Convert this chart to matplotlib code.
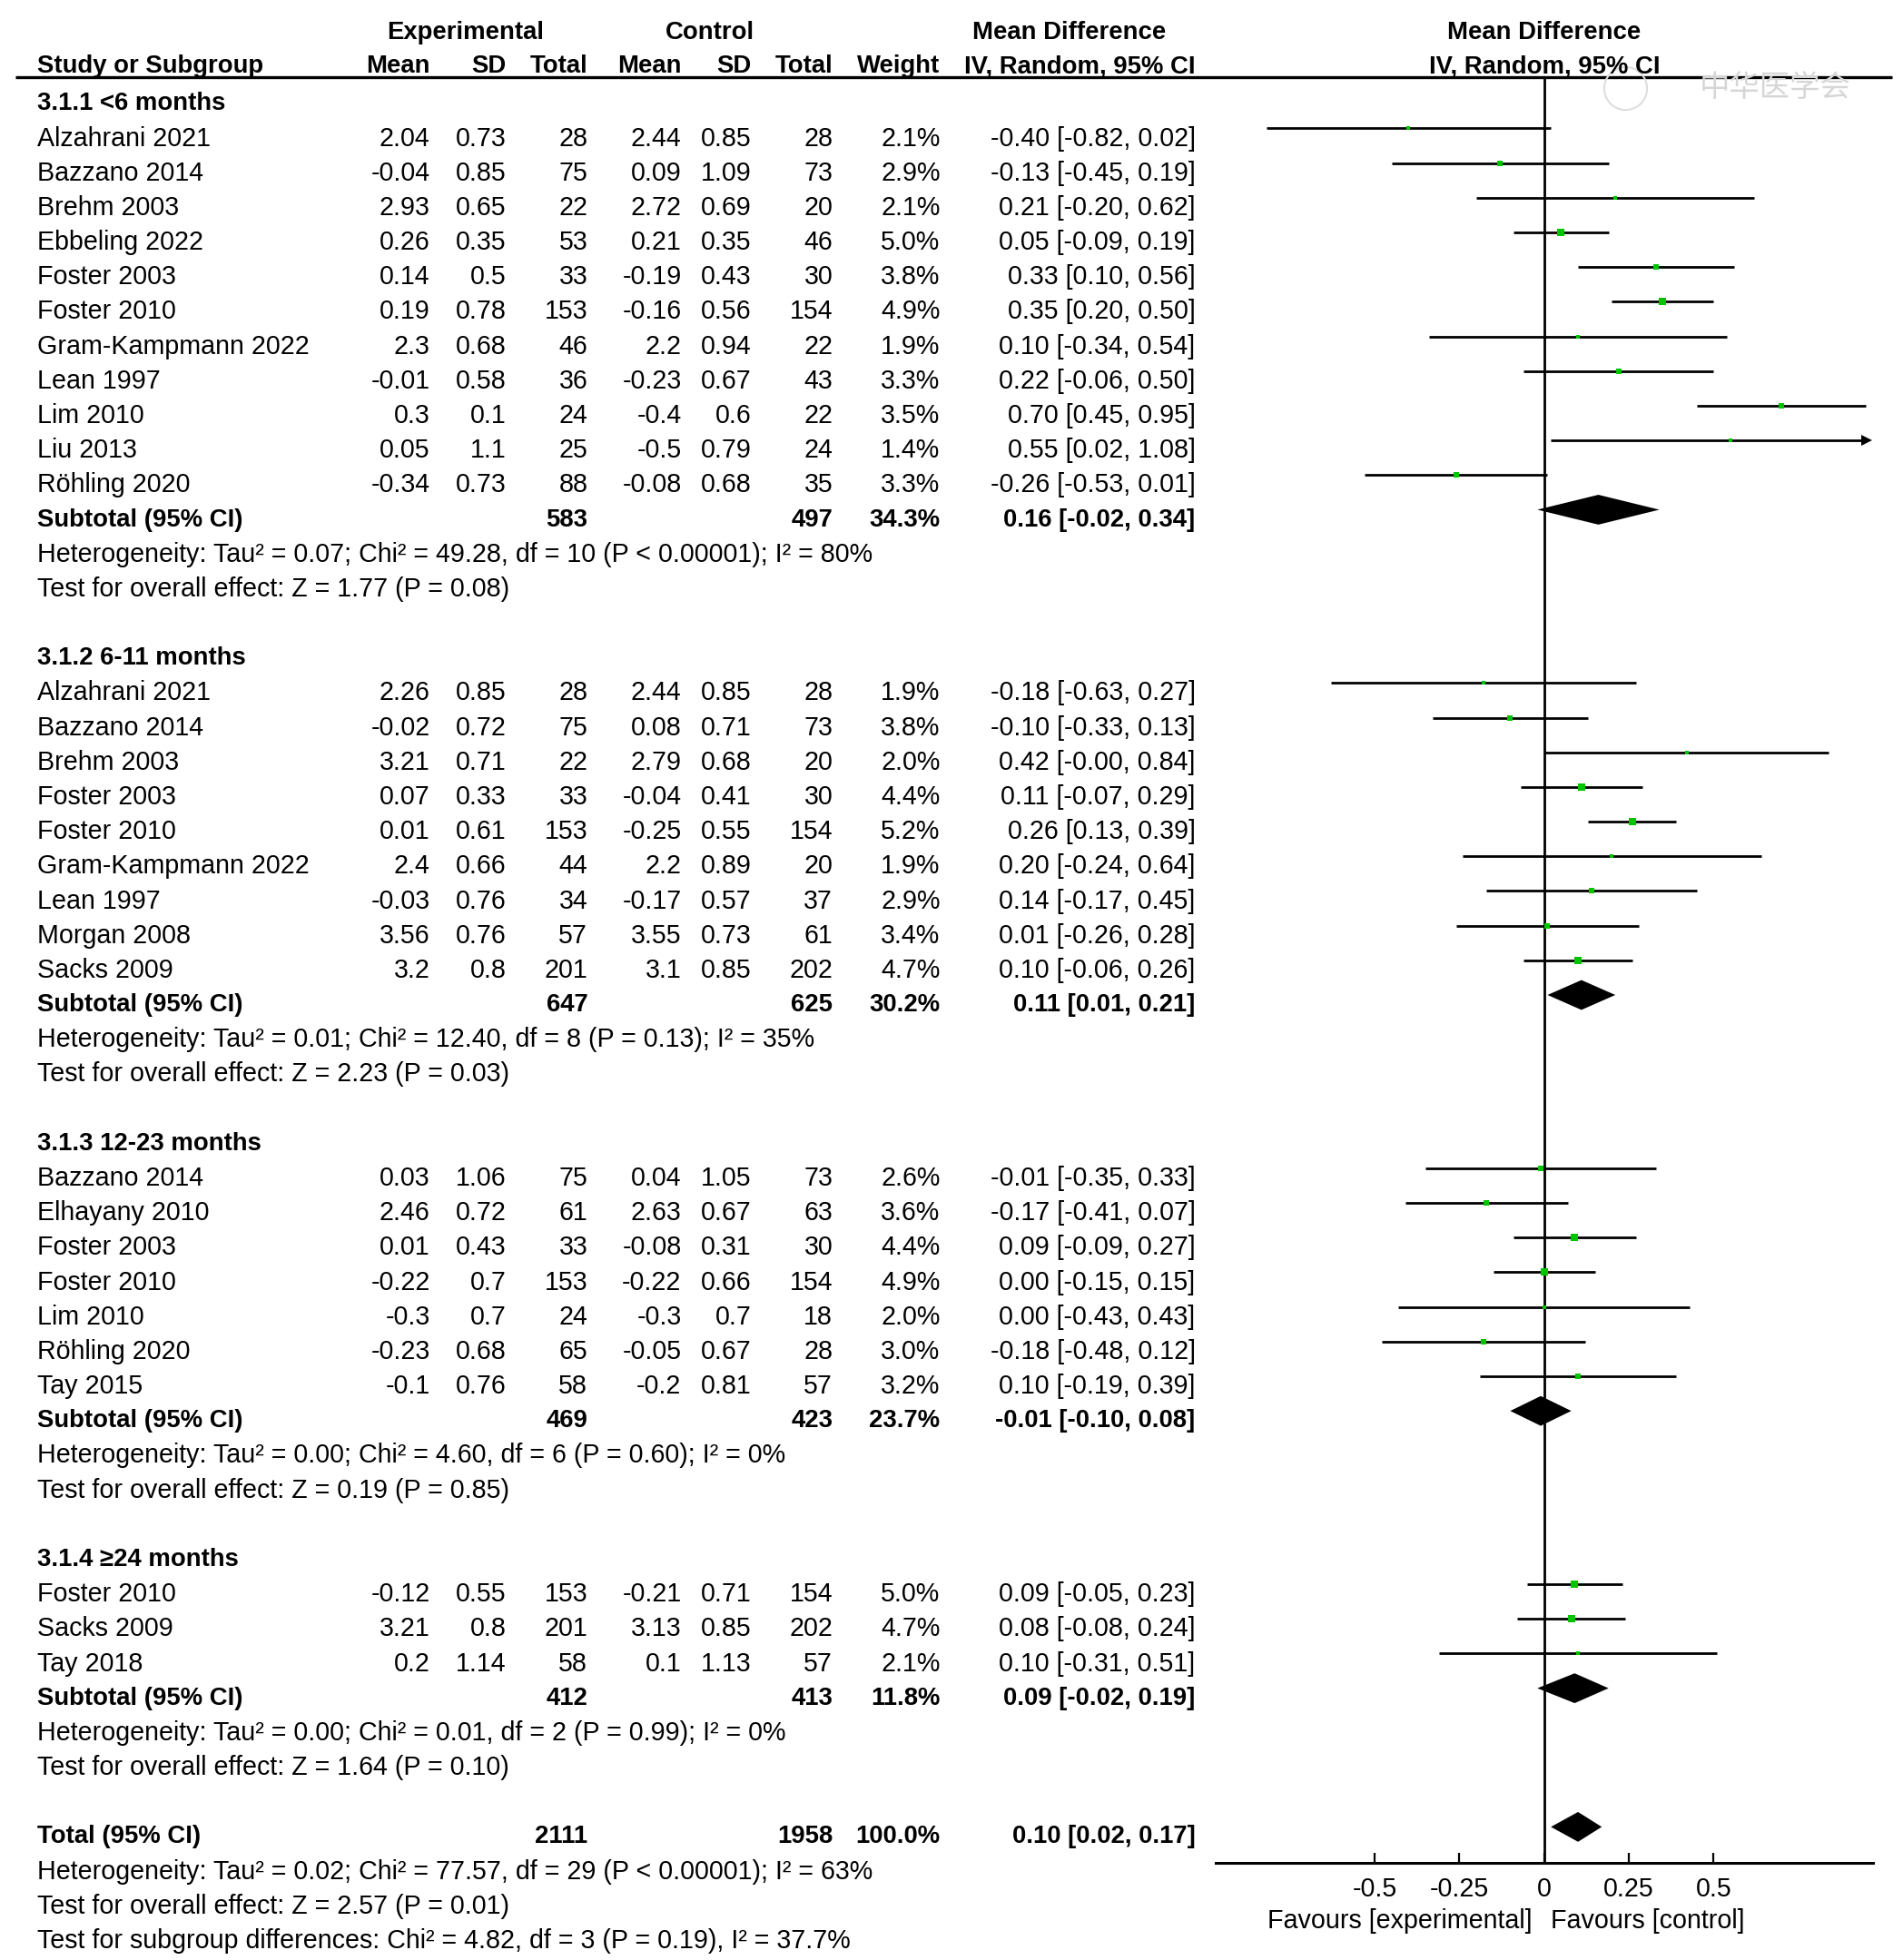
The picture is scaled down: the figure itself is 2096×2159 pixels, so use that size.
import numpy as np
import matplotlib
matplotlib.use('Agg')
import matplotlib.pyplot as plt

plt.rcParams['font.family'] = ['Liberation Sans', 'DejaVu Sans']

# ---- data ----
group_titles = ['3.1.1 <6 months', '3.1.2 6-11 months', '3.1.3 12-23 months', '3.1.4 ≥24 months']

names1 = ['Alzahrani 2021', 'Bazzano 2014', 'Brehm 2003', 'Ebbeling 2022', 'Foster 2003', 'Foster 2010',
          'Gram-Kampmann 2022', 'Lean 1997', 'Lim 2010', 'Liu 2013', 'Röhling 2020']
exp_mean1 = [2.04, -0.04, 2.93, 0.26, 0.14, 0.19, 2.3, -0.01, 0.3, 0.05, -0.34]
exp_sd1 = [0.73, 0.85, 0.65, 0.35, 0.5, 0.78, 0.68, 0.58, 0.1, 1.1, 0.73]
exp_n1 = [28, 75, 22, 53, 33, 153, 46, 36, 24, 25, 88]
ctl_mean1 = [2.44, 0.09, 2.72, 0.21, -0.19, -0.16, 2.2, -0.23, -0.4, -0.5, -0.08]
ctl_sd1 = [0.85, 1.09, 0.69, 0.35, 0.43, 0.56, 0.94, 0.67, 0.6, 0.79, 0.68]
ctl_n1 = [28, 73, 20, 46, 30, 154, 22, 43, 22, 24, 35]
weight1 = [2.1, 2.9, 2.1, 5.0, 3.8, 4.9, 1.9, 3.3, 3.5, 1.4, 3.3]
md1 = [-0.40, -0.13, 0.21, 0.05, 0.33, 0.35, 0.10, 0.22, 0.70, 0.55, -0.26]
lo1 = [-0.82, -0.45, -0.20, -0.09, 0.10, 0.20, -0.34, -0.06, 0.45, 0.02, -0.53]
hi1 = [0.02, 0.19, 0.62, 0.19, 0.56, 0.50, 0.54, 0.50, 0.95, 1.08, 0.01]

names2 = ['Alzahrani 2021', 'Bazzano 2014', 'Brehm 2003', 'Foster 2003', 'Foster 2010',
          'Gram-Kampmann 2022', 'Lean 1997', 'Morgan 2008', 'Sacks 2009']
exp_mean2 = [2.26, -0.02, 3.21, 0.07, 0.01, 2.4, -0.03, 3.56, 3.2]
exp_sd2 = [0.85, 0.72, 0.71, 0.33, 0.61, 0.66, 0.76, 0.76, 0.8]
exp_n2 = [28, 75, 22, 33, 153, 44, 34, 57, 201]
ctl_mean2 = [2.44, 0.08, 2.79, -0.04, -0.25, 2.2, -0.17, 3.55, 3.1]
ctl_sd2 = [0.85, 0.71, 0.68, 0.41, 0.55, 0.89, 0.57, 0.73, 0.85]
ctl_n2 = [28, 73, 20, 30, 154, 20, 37, 61, 202]
weight2 = [1.9, 3.8, 2.0, 4.4, 5.2, 1.9, 2.9, 3.4, 4.7]
md2 = [-0.18, -0.10, 0.42, 0.11, 0.26, 0.20, 0.14, 0.01, 0.10]
lo2 = [-0.63, -0.33, -0.0, -0.07, 0.13, -0.24, -0.17, -0.26, -0.06]
hi2 = [0.27, 0.13, 0.84, 0.29, 0.39, 0.64, 0.45, 0.28, 0.26]

names3 = ['Bazzano 2014', 'Elhayany 2010', 'Foster 2003', 'Foster 2010', 'Lim 2010', 'Röhling 2020', 'Tay 2015']
exp_mean3 = [0.03, 2.46, 0.01, -0.22, -0.3, -0.23, -0.1]
exp_sd3 = [1.06, 0.72, 0.43, 0.7, 0.7, 0.68, 0.76]
exp_n3 = [75, 61, 33, 153, 24, 65, 58]
ctl_mean3 = [0.04, 2.63, -0.08, -0.22, -0.3, -0.05, -0.2]
ctl_sd3 = [1.05, 0.67, 0.31, 0.66, 0.7, 0.67, 0.81]
ctl_n3 = [73, 63, 30, 154, 18, 28, 57]
weight3 = [2.6, 3.6, 4.4, 4.9, 2.0, 3.0, 3.2]
md3 = [-0.01, -0.17, 0.09, 0.00, 0.00, -0.18, 0.10]
lo3 = [-0.35, -0.41, -0.09, -0.15, -0.43, -0.48, -0.19]
hi3 = [0.33, 0.07, 0.27, 0.15, 0.43, 0.12, 0.39]

names4 = ['Foster 2010', 'Sacks 2009', 'Tay 2018']
exp_mean4 = [-0.12, 3.21, 0.2]
exp_sd4 = [0.55, 0.8, 1.14]
exp_n4 = [153, 201, 58]
ctl_mean4 = [-0.21, 3.13, 0.1]
ctl_sd4 = [0.71, 0.85, 1.13]
ctl_n4 = [154, 202, 57]
weight4 = [5.0, 4.7, 2.1]
md4 = [0.09, 0.08, 0.10]
lo4 = [-0.05, -0.08, -0.31]
hi4 = [0.23, 0.24, 0.51]

sub_exp_n = [583, 647, 469, 412]
sub_ctl_n = [497, 625, 423, 413]
sub_weight = [34.3, 30.2, 23.7, 11.8]
sub_md = [0.16, 0.11, -0.01, 0.09]
sub_lo = [-0.02, 0.01, -0.10, -0.02]
sub_hi = [0.34, 0.21, 0.08, 0.19]
sub_het = ['Heterogeneity: Tau² = 0.07; Chi² = 49.28, df = 10 (P < 0.00001); I² = 80%',
           'Heterogeneity: Tau² = 0.01; Chi² = 12.40, df = 8 (P = 0.13); I² = 35%',
           'Heterogeneity: Tau² = 0.00; Chi² = 4.60, df = 6 (P = 0.60); I² = 0%',
           'Heterogeneity: Tau² = 0.00; Chi² = 0.01, df = 2 (P = 0.99); I² = 0%']
sub_z = ['Test for overall effect: Z = 1.77 (P = 0.08)',
         'Test for overall effect: Z = 2.23 (P = 0.03)',
         'Test for overall effect: Z = 0.19 (P = 0.85)',
         'Test for overall effect: Z = 1.64 (P = 0.10)']

total_exp_n = 2111
total_ctl_n = 1958
total_md, total_lo, total_hi = 0.10, 0.02, 0.17
total_lines = ['Heterogeneity: Tau² = 0.02; Chi² = 77.57, df = 29 (P < 0.00001); I² = 63%',
               'Test for overall effect: Z = 2.57 (P = 0.01)',
               'Test for subgroup differences: Chi² = 4.82, df = 3 (P = 0.19), I² = 37.7%']

xticks = [-0.5, -0.25, 0, 0.25, 0.5]
xticklabels = ['-0.5', '-0.25', '0', '0.25', '0.5']

studies = [
    (names1, exp_mean1, exp_sd1, exp_n1, ctl_mean1, ctl_sd1, ctl_n1, weight1, md1, lo1, hi1),
    (names2, exp_mean2, exp_sd2, exp_n2, ctl_mean2, ctl_sd2, ctl_n2, weight2, md2, lo2, hi2),
    (names3, exp_mean3, exp_sd3, exp_n3, ctl_mean3, ctl_sd3, ctl_n3, weight3, md3, lo3, hi3),
    (names4, exp_mean4, exp_sd4, exp_n4, ctl_mean4, ctl_sd4, ctl_n4, weight4, md4, lo4, hi4),
]

# ---- layout ----
FS = 20.6      # regular text
FSB = 19.8     # bold text
W, H = 1522, 1568          # layout units (reference pixels, shrunk)
ROW0, ROWH = 75, 27.73     # y of first row marks, row pitch
TOFF = 0.29                # text sits a little lower than the marks
r_top = -ROW0 / ROWH
r_bot = (H - ROW0) / ROWH
XCLIP = 0.965
DH = 0.43                  # half height of diamonds

fig = plt.figure(figsize=(20.96, 21.59), dpi=100)
tab = fig.add_axes([0, 0, 1, 1])
tab.set_xlim(0, W)
tab.set_ylim(r_bot, r_top)
tab.axis('off')

ax = fig.add_axes([964 / W, 0, 542 / W, 1])
ax.set_xlim(-1, 1)
ax.set_ylim(r_bot, r_top)
ax.patch.set_visible(False)

col_x = [344, 405, 470, 545, 601, 666, 752, 956]
NAME_X = 30


def ci_text(m, l, h):
    return f"{m:.2f} [{l:.2f}, {h:.2f}]"


def put(x, r, s, ha='right', bold=False):
    tab.text(x, r + TOFF, s, ha=ha, va='center', fontsize=FSB if bold else FS,
             fontweight='bold' if bold else 'normal')


# headers
put(372, -2.06, 'Experimental', ha='center', bold=True)
put(568, -2.06, 'Control', ha='center', bold=True)
put(855, -2.06, 'Mean Difference', ha='center', bold=True)
put(NAME_X, -1.08, 'Study or Subgroup', ha='left', bold=True)
for x, s in zip(col_x, ['Mean', 'SD', 'Total', 'Mean', 'SD', 'Total', 'Weight', 'IV, Random, 95% CI']):
    put(x, -1.08, s, bold=True)
ax.text(0, -2.06 + TOFF, 'Mean Difference', ha='center', va='center', fontsize=FSB, fontweight='bold')
ax.text(0, -1.08 + TOFF, 'IV, Random, 95% CI', ha='center', va='center', fontsize=FSB, fontweight='bold')
line_r = (62 - ROW0) / ROWH
tab.plot([12, 1513], [line_r, line_r], color='black', lw=2.4, solid_capstyle='butt')

# watermark
tab.plot([1300], [line_r + 0.3], marker='o', ms=34, mfc='none', mec='#dedede', mew=1.5)
tab.text(1420, line_r + 0.3, '中华医学会', ha='center', va='center', fontsize=24, color='#d6d6d6',
         family=['Noto Sans CJK SC', 'DejaVu Sans'], style='italic')

r = 0
for g, st in enumerate(studies):
    names, em, esd, en, cm, csd, cn, w, md, lo, hi = st
    put(NAME_X, r, group_titles[g], ha='left', bold=True)
    for i in range(len(names)):
        rr = r + 1 + i
        put(NAME_X, rr, names[i], ha='left')
        vals = [f"{em[i]:g}", f"{esd[i]:g}", str(en[i]), f"{cm[i]:g}", f"{csd[i]:g}", str(cn[i]),
                f"{w[i]:.1f}%", ci_text(md[i], lo[i], hi[i])]
        for x, s in zip(col_x, vals):
            put(x, rr, s)
        # CI line and point
        if hi[i] > XCLIP:
            ax.plot([lo[i], XCLIP - 0.02], [rr, rr], color='black', lw=2, solid_capstyle='butt', zorder=2)
            ax.plot([XCLIP - 0.012], [rr], marker='>', ms=9, color='black', mew=0, zorder=2)
        else:
            ax.plot([lo[i], hi[i]], [rr, rr], color='black', lw=2, solid_capstyle='butt', zorder=2)
        ax.plot([md[i]], [rr], marker='s', ms=2 + 0.7 * w[i], color='#00c400', mew=0, zorder=3)
    rs = r + len(names) + 1
    put(NAME_X, rs, 'Subtotal (95% CI)', ha='left', bold=True)
    put(col_x[2], rs, str(sub_exp_n[g]), bold=True)
    put(col_x[5], rs, str(sub_ctl_n[g]), bold=True)
    put(col_x[6], rs, f"{sub_weight[g]:.1f}%", bold=True)
    put(col_x[7], rs, ci_text(sub_md[g], sub_lo[g], sub_hi[g]), bold=True)
    ax.fill([sub_lo[g], sub_md[g], sub_hi[g], sub_md[g]], [rs, rs - DH, rs, rs + DH],
            color='black', lw=0, zorder=3)
    put(NAME_X, rs + 1, sub_het[g], ha='left')
    put(NAME_X, rs + 2, sub_z[g], ha='left')
    r = rs + 4

# overall
put(NAME_X, r, 'Total (95% CI)', ha='left', bold=True)
put(col_x[2], r, str(total_exp_n), bold=True)
put(col_x[5], r, str(total_ctl_n), bold=True)
put(col_x[6], r, f"{sum(sub_weight):.1f}%", bold=True)
put(col_x[7], r, ci_text(total_md, total_lo, total_hi), bold=True)
ax.fill([total_lo, total_md, total_hi, total_md], [r, r - DH, r, r + DH], color='black', lw=0, zorder=3)
for k, s in enumerate(total_lines):
    put(NAME_X, r + 1 + k, s, ha='left')

# forest axis
axis_r = r + 1.04
ax.plot([0, 0], [line_r, axis_r], color='black', lw=2, zorder=1)
for side in ['top', 'left', 'right']:
    ax.spines[side].set_visible(False)
ax.spines['bottom'].set_position(('data', axis_r))
ax.spines['bottom'].set_bounds(-0.97, 0.97)
ax.spines['bottom'].set_linewidth(2.2)
ax.set_yticks([])
ax.set_xticks(xticks)
ax.set_xticklabels(xticklabels)
ax.tick_params(axis='x', direction='in', length=8, width=1.6, labelsize=FS, pad=11)
ax.text(-0.035, r + 2.43 + TOFF, 'Favours [experimental]', ha='right', va='center', fontsize=FS)
ax.text(0.02, r + 2.43 + TOFF, 'Favours [control]', ha='left', va='center', fontsize=FS)

fig.savefig('out.png', dpi=100, facecolor='white')
